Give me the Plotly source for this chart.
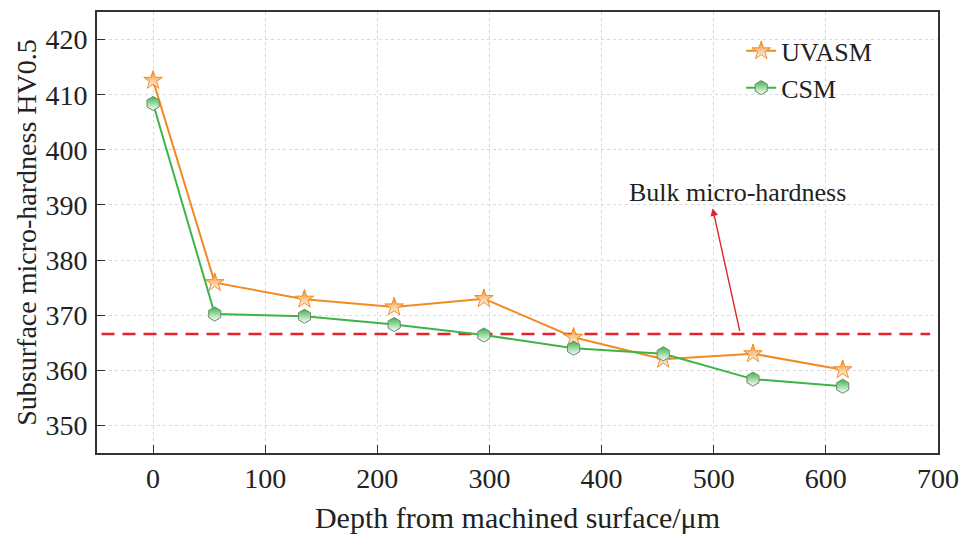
import plotly.graph_objects as go

depth = [0, 55, 135, 215, 295, 375, 455, 535, 615]
uvasm = [412.6, 375.9, 372.9, 371.5, 373.0, 366.0, 362.0, 363.0, 360.1]
csm = [408.4, 370.2, 369.8, 368.3, 366.4, 364.0, 363.0, 358.4, 357.1]
bulk_value = 366.6
bulk_x = [-46, 693]
x_ticks = [0, 100, 200, 300, 400, 500, 600, 700]
y_ticks = [350, 360, 370, 380, 390, 400, 410, 420]

orange = "#F28A22"
green = "#3CB44A"
red = "#E3232C"
font_family = "Liberation Serif"

fig = go.Figure()

fig.add_trace(go.Scatter(
    x=bulk_x, y=[bulk_value] * len(bulk_x), mode="lines",
    line=dict(color=red, width=2.5, dash="13px,8px"),
    showlegend=False, hoverinfo="skip"))

fig.add_trace(go.Scatter(
    x=depth, y=uvasm, mode="lines+markers", name="UVASM",
    line=dict(color=orange, width=2),
    marker=dict(symbol="star", size=14, color=orange,
                gradient=dict(type="vertical", color="white"),
                line=dict(color=orange, width=1))))

fig.add_trace(go.Scatter(
    x=depth, y=csm, mode="lines+markers", name="CSM",
    line=dict(color=green, width=2),
    marker=dict(symbol="hexagon", size=14, color=green,
                gradient=dict(type="vertical", color="white"),
                line=dict(color="#6a8a6a", width=1))))

fig.add_annotation(
    x=499, y=389.4, ax=523.5, ay=366.9, xref="x", yref="y", axref="x", ayref="y",
    text="", showarrow=True, arrowhead=2, arrowsize=1.1, arrowwidth=1.4,
    arrowcolor=red)
fig.add_annotation(
    x=521, y=392.3, xref="x", yref="y", text="Bulk micro-hardness",
    showarrow=False, font=dict(family=font_family, size=26, color="#222"))

axis_common = dict(
    showline=True, linecolor="#333", linewidth=1.6, mirror=True,
    ticks="inside", ticklen=8, tickwidth=1.3, tickcolor="#333",
    showgrid=True, gridcolor="#d8d8d8", griddash="dot", gridwidth=1,
    zeroline=False, automargin=False,
    tickfont=dict(family=font_family, size=28, color="#222"),
)

fig.update_xaxes(
    range=[-50, 700], tickvals=x_ticks, ticklabelstandoff=0,
    title=dict(text="Depth from machined surface/μm", standoff=14,
               font=dict(family=font_family, size=30, color="#222")),
    **axis_common)
fig.update_yaxes(
    range=[345, 425], tickvals=y_ticks, ticklabelstandoff=2,
    title=dict(text="Subsurface micro-hardness HV0.5", standoff=1,
               font=dict(family=font_family, size=28, color="#222")),
    **axis_common)

fig.update_layout(
    width=971, height=536,
    margin=dict(l=97, r=33, t=12, b=83),
    paper_bgcolor="white", plot_bgcolor="white",
    legend=dict(x=0.766, y=0.965, xanchor="left", yanchor="top",
                bgcolor="rgba(0,0,0,0)", tracegroupgap=0,
                font=dict(family=font_family, size=26, color="#222")),
)

fig.write_html("out.html")
